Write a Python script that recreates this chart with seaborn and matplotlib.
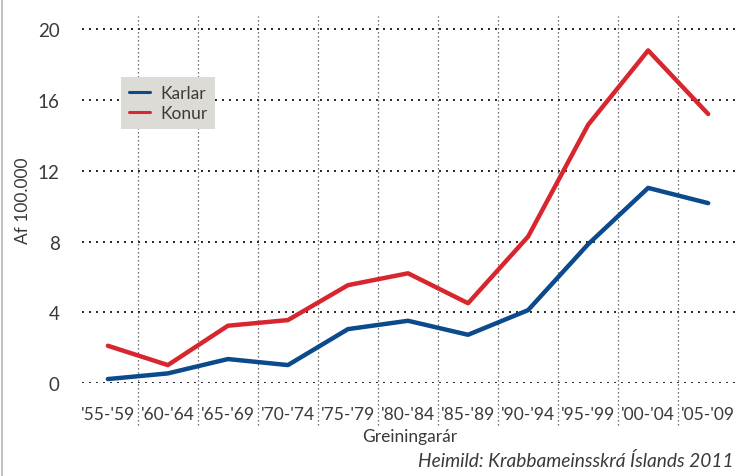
import pandas as pd
import seaborn as sns
import matplotlib.pyplot as plt
from matplotlib.lines import Line2D

periods = ["'55-'59", "'60-'64", "'65-'69", "'70-'74", "'75-'79", "'80-'84",
           "'85-'89", "'90-'94", "'95-'99", "'00-'04", "'05-'09"]
karlar = [0.24, 0.56, 1.37, 1.03, 3.06, 3.53, 2.74, 4.13, 7.85, 11.03, 10.17]
konur = [2.12, 1.03, 3.25, 3.57, 5.54, 6.21, 4.52, 8.28, 14.59, 18.79, 15.2]
yticks = [0, 4, 8, 12, 16, 20]

df = pd.DataFrame({
    "pos": list(range(len(periods))) * 2,
    "value": karlar + konur,
    "kyn": ["Karlar"] * len(periods) + ["Konur"] * len(periods),
})

sns.set_style("white")
plt.rcParams["font.family"] = ["Lato", "DejaVu Sans"]
txt = "#3a3a3a"

fig = plt.figure(figsize=(7.37, 4.77), dpi=100)
ax = fig.add_axes([0.1113, 0.1943, 0.8887, 0.7707])

# horizontal dotted grid
ax.hlines(yticks, -0.43, 10.48, colors="#222222", linestyles=(0, (1, 2.6)), linewidth=1.4, zorder=1)
# vertical separators between periods
ax.vlines([i + 0.5 for i in range(len(periods) - 1)], -2.35, 20.75, colors="#444444",
          linestyles=(0, (1, 2.2)), linewidth=0.9, clip_on=False, zorder=1)

sns.lineplot(data=df, x="pos", y="value", hue="kyn",
             palette={"Karlar": "#0b4a8b", "Konur": "#d8262f"},
             linewidth=3.2, ax=ax, zorder=3)

ax.set_xlim(-0.43, 10.48)
ax.set_ylim(0, 20.75)
ax.set_xticks(range(len(periods)))
ax.set_xticklabels(periods, fontsize=12.5, color=txt)
ax.set_yticks(yticks)
ax.set_yticklabels([str(t) for t in yticks], fontsize=13.5, color=txt)
ax.tick_params(axis="x", length=0, pad=16)
ax.tick_params(axis="y", length=0, pad=16)
for s in ax.spines.values():
    s.set_visible(False)
ax.set_xlabel("Greiningarár", fontsize=12.5, color=txt, labelpad=5)
ax.set_ylabel("Af 100.000", fontsize=12.5, color=txt, labelpad=5)

leg = ax.legend(loc="upper left", bbox_to_anchor=(0.0595, 0.833), borderaxespad=0,
                frameon=True, fancybox=False, facecolor="#dcdbd6", edgecolor="none",
                framealpha=1, fontsize=12.5, handlelength=1.2, handletextpad=0.6,
                borderpad=0.45, labelspacing=0.25, title=None)
for t in leg.get_texts():
    t.set_color(txt)
for h in leg.get_lines():
    h.set_linewidth(2.2)

fig.text(0.995, 0.022, "Heimild: Krabbameinsskrá Íslands 2011", ha="right", va="baseline",
         fontsize=13.8, style="italic", color=txt)
fig.add_artist(Line2D([0.003, 0.003], [0, 1], color="#b5b5b5", linewidth=1.2))

plt.savefig("out.png", dpi=100)
